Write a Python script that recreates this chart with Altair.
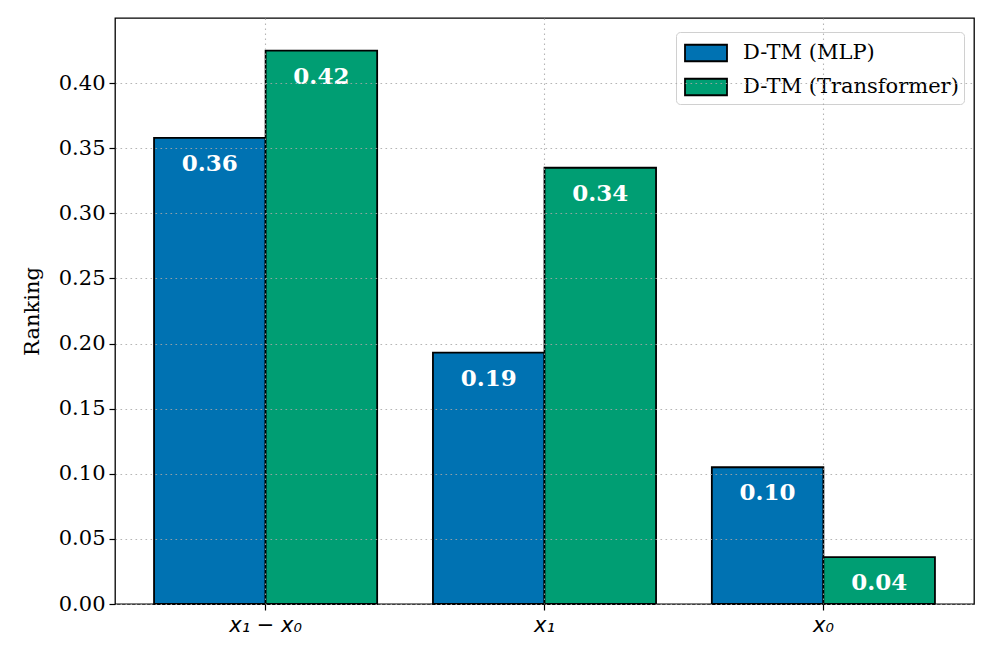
import altair as alt
import pandas as pd

categories = ["x₁ − x₀", "x₁", "x₀"]
series = ["D-TM (MLP)", "D-TM (Transformer)"]
mlp_values = [0.358, 0.193, 0.105]
transformer_values = [0.425, 0.335, 0.036]
mlp_labels = ["0.36", "0.19", "0.10"]
transformer_labels = ["0.42", "0.34", "0.04"]
colors = ["#0072B2", "#009E73"]

rows = []
for i, c in enumerate(categories):
    rows.append({"cat": c, "series": series[0], "value": mlp_values[i], "label": mlp_labels[i]})
    rows.append({"cat": c, "series": series[1], "value": transformer_values[i], "label": transformer_labels[i]})
df = pd.DataFrame(rows)

SERIF = "DejaVu Serif"
FS = 21
GRID = dict(gridColor="#a8a8a8", gridDash=[1.6, 3.4], gridOpacity=0.85, gridWidth=1.1)

x_enc = alt.X("cat:N", sort=categories, title=None,
              scale=alt.Scale(paddingInner=0.2, paddingOuter=0.14),
              axis=alt.Axis(labelAngle=0, grid=True, bandPosition=0.5, ticks=True,
                            labelFont="DejaVu Sans", labelFontStyle="italic", labelFontSize=FS,
                            labelColor="black", tickColor="black", tickSize=6, tickWidth=1.2,
                            labelPadding=4, domain=False, zindex=1, **GRID))
xoff = alt.XOffset("series:N", sort=series, scale=alt.Scale(paddingInner=0, paddingOuter=0))
y_enc = alt.Y("value:Q", title="Ranking",
              scale=alt.Scale(domain=[0, 0.45], nice=False, zero=True),
              axis=alt.Axis(values=[0, 0.05, 0.1, 0.15, 0.2, 0.25, 0.3, 0.35, 0.4], format=".2f",
                            labelFont=SERIF, labelFontSize=FS, labelColor="black",
                            titleFont=SERIF, titleFontSize=FS, titleFontWeight="normal",
                            titleColor="black", titlePadding=16,
                            tickColor="black", tickSize=6, tickWidth=1.2, labelPadding=4,
                            domain=False, grid=True, zindex=1, **GRID))

bars = alt.Chart(df).mark_bar(stroke="black", strokeWidth=1.8, opacity=1).encode(
    x=x_enc, xOffset=xoff, y=y_enc,
    color=alt.Color("series:N", sort=series,
                    scale=alt.Scale(domain=series, range=colors),
                    legend=alt.Legend(title=None, orient="none", legendX=561, legendY=14,
                                      labelFont=SERIF, labelFontSize=FS, labelColor="black",
                                      labelLimit=0,
                                      symbolType="M-1.4,-0.55H1.4V0.55H-1.4Z", symbolSize=900,
                                      symbolStrokeColor="black", symbolStrokeWidth=1.8,
                                      symbolOpacity=1, rowPadding=6, labelOffset=21,
                                      symbolOffset=9,
                                      padding=5, fillColor="white", strokeColor="#d0d0d0",
                                      cornerRadius=4)),
)

text = alt.Chart(df).mark_text(font=SERIF, fontSize=23, fontWeight="bold", color="white",
                               baseline="middle", dy=26).encode(
    x=alt.X("cat:N", sort=categories), xOffset=xoff, y="value:Q", text="label:N")

chart = alt.layer(bars, text).properties(
    width=859, height=586,
    background="white",
    autosize=alt.AutoSizeParams(type="none"),
    padding={"left": 107, "top": 10, "right": 10, "bottom": 50},
).configure_view(stroke="black", strokeWidth=1.3)

chart.save("out.html", embed_options={"renderer": "svg", "actions": False})
